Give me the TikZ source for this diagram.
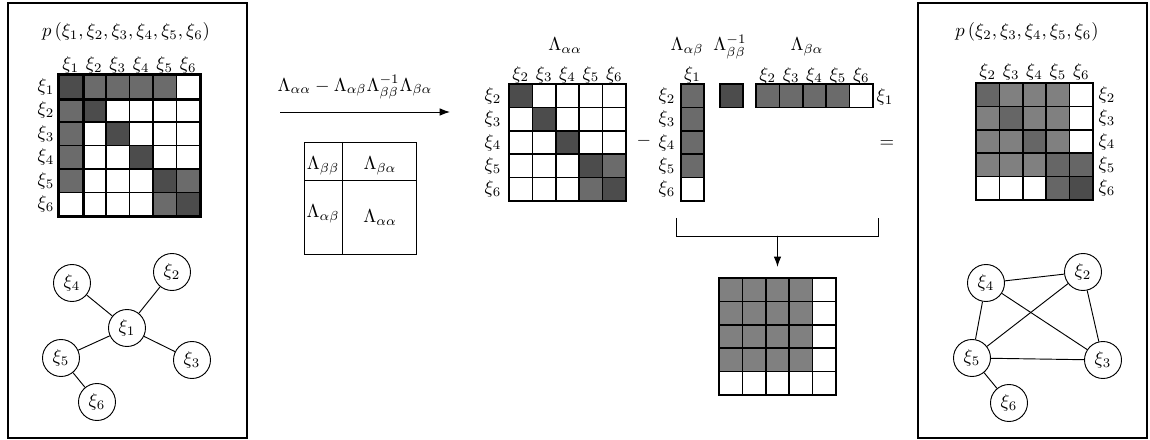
\documentclass[tikz,border=0pt]{standalone}
\usetikzlibrary{arrows.meta}
\begin{document}
\begin{tikzpicture}[x=0.535pt,y=-0.535pt]
\tikzset{
 cell/.style={draw, line width=0.9pt, minimum size=12.5pt, inner sep=0pt, anchor=center},
 lbl/.style={inner sep=0pt},
 frame/.style={draw, line width=0.9pt},
 thinline/.style={draw, line width=0.5pt},
 gnode/.style={draw, circle, line width=0.5pt, minimum size=19.8pt, inner sep=0pt},
 gedge/.style={line width=0.5pt},
 sep/.style={line width=1.8pt}
}
\useasboundingbox (0,0) rectangle (1150,440);

% ---------- left box ----------
\draw[frame] (8,3) rectangle (247,438);
\node[lbl] (T1) at (126,32) {$p\left(\xi_1,\xi_2,\xi_3,\xi_4,\xi_5,\xi_6\right)$};
\def\Amat{70,58,58,58,58,0, 58,70,0,0,0,0, 58,0,70,0,0,0, 58,0,0,70,0,0, 58,0,0,0,70,58, 0,0,0,0,58,70}
\foreach \r in {1,...,6}{
  \foreach \c in {1,...,6}{
    \pgfmathtruncatemacro\p{{\Amat}[(\r-1)*6+\c-1]}
    \node[cell, fill=black!\p] (A-\r-\c) at ({59+(\c-0.5)*23.5},{75+(\r-0.5)*23.5}) {};
  }
  \node[lbl] (Ah-\r) at ({59+(\r-0.5)*23.5},65) {$\xi_{\r}$};
  \node[lbl] (Ar-\r) at (46,{75+(\r-0.5)*23.5}) {$\xi_{\r}$};
}
\draw[sep] (A-1-1.south west) -- (A-1-6.south east);
\draw[sep] (A-1-1.north east) -- (A-6-1.south east);
\draw[sep] (A-1-1.north west) rectangle (A-6-6.south east);

% left graph
\node[gnode] (L1) at (127,328) {$\xi_1$};
\node[gnode] (L2) at (172,272) {$\xi_2$};
\node[gnode] (L3) at (192,360) {$\xi_3$};
\node[gnode] (L4) at (72,283) {$\xi_4$};
\node[gnode] (L5) at (61,358) {$\xi_5$};
\node[gnode] (L6) at (97,402) {$\xi_6$};
\draw[gedge] (L1) -- (L2);
\draw[gedge] (L1) -- (L3);
\draw[gedge] (L1) -- (L4);
\draw[gedge] (L1) -- (L5);
\draw[gedge] (L5) -- (L6);

% ---------- formula and arrow ----------
\node[lbl] (frm) at (355,87) {$\Lambda_{\alpha\alpha}-\Lambda_{\alpha\beta}\Lambda_{\beta\beta}^{-1}\Lambda_{\beta\alpha}$};
\coordinate (a1) at (280,112);
\coordinate (a2) at (450,112);
\draw[gedge, -{Latex[length=5.5pt,width=4pt]}] (a1) -- (a2);

% block matrix
\draw[thinline] (304,142) rectangle (416,254);
\draw[thinline] (342,142) -- (342,254);
\draw[thinline] (304,180) -- (416,180);
\node[lbl] (bbb) at (323,166) {$\Lambda_{\beta\beta}$};
\node[lbl] (bba) at (380,166) {$\Lambda_{\beta\alpha}$};
\node[lbl] (bab) at (323,214) {$\Lambda_{\alpha\beta}$};
\node[lbl] (baa) at (380,218) {$\Lambda_{\alpha\alpha}$};

% ---------- Lambda_aa ----------
\node[lbl, anchor=base] (LBaa) at (565,51) {$\Lambda_{\alpha\alpha}$};
\def\Bmat{70,0,0,0,0, 0,70,0,0,0, 0,0,70,0,0, 0,0,0,70,58, 0,0,0,58,70}
\foreach \r in {1,...,5}{
  \foreach \c in {1,...,5}{
    \pgfmathtruncatemacro\p{{\Bmat}[(\r-1)*5+\c-1]}
    \node[cell, fill=black!\p] (B-\r-\c) at ({509+(\c-0.5)*23.4},{84+(\r-0.5)*23.4}) {};
  }
  \pgfmathtruncatemacro\k{\r+1}
  \node[lbl] (Bh-\r) at ({509+(\r-0.5)*23.4},74.5) {$\xi_{\k}$};
  \node[lbl] (Br-\r) at (493,{84+(\r-0.5)*23.4}) {$\xi_{\k}$};
}
\node[lbl] (minus) at (644,141) {$-$};

% ---------- Lambda_ab column ----------
\node[lbl, anchor=base] (LBab) at (687,51) {$\Lambda_{\alpha\beta}$};
\node[lbl] (Ch) at (692.5,74.5) {$\xi_1$};
\foreach \r/\p in {1/58,2/58,3/58,4/58,5/0}{
  \pgfmathtruncatemacro\k{\r+1}
  \node[cell, fill=black!\p] (C-\r) at (692.5,{84+(\r-0.5)*23.4}) {};
  \node[lbl] (Cr-\r) at (667,{84+(\r-0.5)*23.4}) {$\xi_{\k}$};
}

% ---------- Lambda_bb^-1 ----------
\node[lbl, anchor=base] (LBbb) at (730,51) {$\Lambda_{\beta\beta}^{-1}$};
\node[cell, fill=black!70] (D) at (731.5,{84+11.7}) {};

% ---------- Lambda_ba row ----------
\node[lbl, anchor=base] (LBba) at (807,51) {$\Lambda_{\beta\alpha}$};
\foreach \c/\p in {1/58,2/58,3/58,4/58,5/0}{
  \pgfmathtruncatemacro\k{\c+1}
  \node[cell, fill=black!\p] (E-\c) at ({756+(\c-0.5)*23.4},{84+11.7}) {};
  \node[lbl] (Eh-\c) at ({756+(\c-0.5)*23.4},75.5) {$\xi_{\k}$};
}
\node[lbl] (Er) at (885,97) {$\xi_1$};
\node[lbl] (eq) at (887,144) {$=$};

% bracket and arrow
\coordinate (b1) at (676,218);
\coordinate (b2) at (878,218);
\coordinate (bc) at (777.5,236);
\draw[gedge] (b1) -- ++(0,18) -| (b2);

% ---------- result ----------
\foreach \r in {1,...,5}{
  \foreach \c in {1,...,5}{
    \pgfmathtruncatemacro\p{(\r<5 && \c<5) ? 50 : 0}
    \node[cell, fill=black!\p] (F-\r-\c) at ({719+(\c-0.5)*23.4},{278+(\r-0.5)*23.4}) {};
  }
}
\draw[gedge, -{Latex[length=5.5pt,width=4pt]}, shorten >=5.5pt] (bc) -- (F-1-3.north);

% ---------- right box ----------
\draw[frame] (918,3) rectangle (1147,438);
\node[lbl] (T2) at (1027,32) {$p\left(\xi_2,\xi_3,\xi_4,\xi_5,\xi_6\right)$};
\def\Gmat{60,50,50,50,0, 50,60,50,50,0, 50,50,60,50,0, 50,50,50,60,60, 0,0,0,60,70}
\foreach \r in {1,...,5}{
  \foreach \c in {1,...,5}{
    \pgfmathtruncatemacro\p{{\Gmat}[(\r-1)*5+\c-1]}
    \node[cell, fill=black!\p] (G-\r-\c) at ({976+(\c-0.5)*23.4},{83+(\r-0.5)*23.4}) {};
  }
  \pgfmathtruncatemacro\k{\r+1}
  \node[lbl] (Gh-\r) at ({976+(\r-0.5)*23.4},72) {$\xi_{\k}$};
  \node[lbl] (Gr-\r) at (1107,{83+(\r-0.5)*23.4}) {$\xi_{\k}$};
}

% right graph
\node[gnode] (R2) at (1083,272) {$\xi_2$};
\node[gnode] (R3) at (1103,360) {$\xi_3$};
\node[gnode] (R4) at (986,283) {$\xi_4$};
\node[gnode] (R5) at (972,358) {$\xi_5$};
\node[gnode] (R6) at (1009,403) {$\xi_6$};
\draw[gedge] (R4) -- (R2);
\draw[gedge] (R4) -- (R5);
\draw[gedge] (R4) -- (R3);
\draw[gedge] (R2) -- (R5);
\draw[gedge] (R2) -- (R3);
\draw[gedge] (R5) -- (R3);
\draw[gedge] (R5) -- (R6);
\end{tikzpicture}
\end{document}
